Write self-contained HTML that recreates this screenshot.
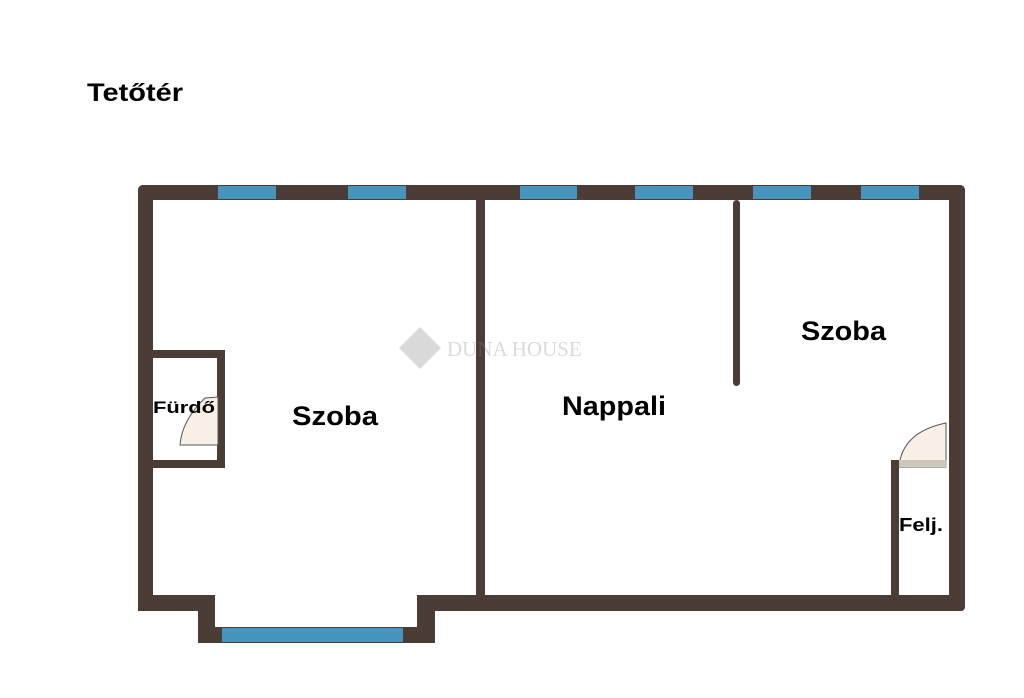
<!DOCTYPE html>
<html><head><meta charset="utf-8"><style>
body{margin:0;background:#fff;width:1024px;height:698px;overflow:hidden}
svg{display:block}
text{font-family:"Liberation Sans",sans-serif;font-weight:bold;fill:#000}
</style></head><body>
<svg width="1024" height="698" viewBox="0 0 1024 698">
<g fill="#4b3d35">
<rect x="138" y="185" width="827" height="15" rx="5"/>
<rect x="138" y="185" width="15" height="426" rx="5"/>
<rect x="949" y="185" width="16" height="426" rx="5"/>
<rect x="138" y="595" width="77" height="16"/>
<rect x="417" y="595" width="548" height="16" rx="4"/>
<rect x="198" y="595" width="17" height="48"/>
<rect x="417" y="595" width="18" height="48"/>
<rect x="198" y="627" width="237" height="16"/>
<rect x="476" y="200" width="9" height="396"/>
<rect x="733" y="200" width="7" height="186" rx="3.5"/>
<rect x="152" y="350" width="73" height="8"/>
<rect x="152" y="460" width="73" height="8"/>
<rect x="217" y="350" width="8" height="118"/>
<rect x="891" y="460" width="8" height="136"/>
</g>
<g fill="#4795be">
<rect x="218" y="186" width="58" height="13"/>
<rect x="348" y="186" width="58" height="13"/>
<rect x="520" y="186" width="57" height="13"/>
<rect x="635" y="186" width="58" height="13"/>
<rect x="753" y="186" width="58" height="13"/>
<rect x="861" y="186" width="58" height="13"/>
<rect x="222" y="628" width="181" height="14"/>
</g>
<path d="M180 445 Q182 420 205 398 L218 397 L218 445 Z" fill="#f8f0e6" stroke="#555" stroke-width="1"/>
<path d="M899 467 Q902 432 946 423 L946 467 Z" fill="#f8f0e6" stroke="#555" stroke-width="1"/>
<rect x="899" y="460" width="48" height="7" fill="#cfc6bc"/>
<g opacity="0.3">
<polygon points="420,327 441,348 420,369 399,348" fill="#888"/>
<text x="447" y="356" font-size="21" style="font-weight:normal;fill:#888;font-family:'Liberation Serif',serif">DUNA HOUSE</text>
</g>
<text x="87" y="101" font-size="25" textLength="96" lengthAdjust="spacingAndGlyphs">Tetőtér</text>
<text x="153" y="413" font-size="17" textLength="62" lengthAdjust="spacingAndGlyphs">Fürdő</text>
<text x="292" y="425" font-size="27" textLength="86" lengthAdjust="spacingAndGlyphs">Szoba</text>
<text x="562" y="415" font-size="27" textLength="104" lengthAdjust="spacingAndGlyphs">Nappali</text>
<text x="801" y="340" font-size="27" textLength="85" lengthAdjust="spacingAndGlyphs">Szoba</text>
<text x="899" y="531" font-size="18" textLength="44" lengthAdjust="spacingAndGlyphs">Felj.</text>
</svg>
</body></html>
